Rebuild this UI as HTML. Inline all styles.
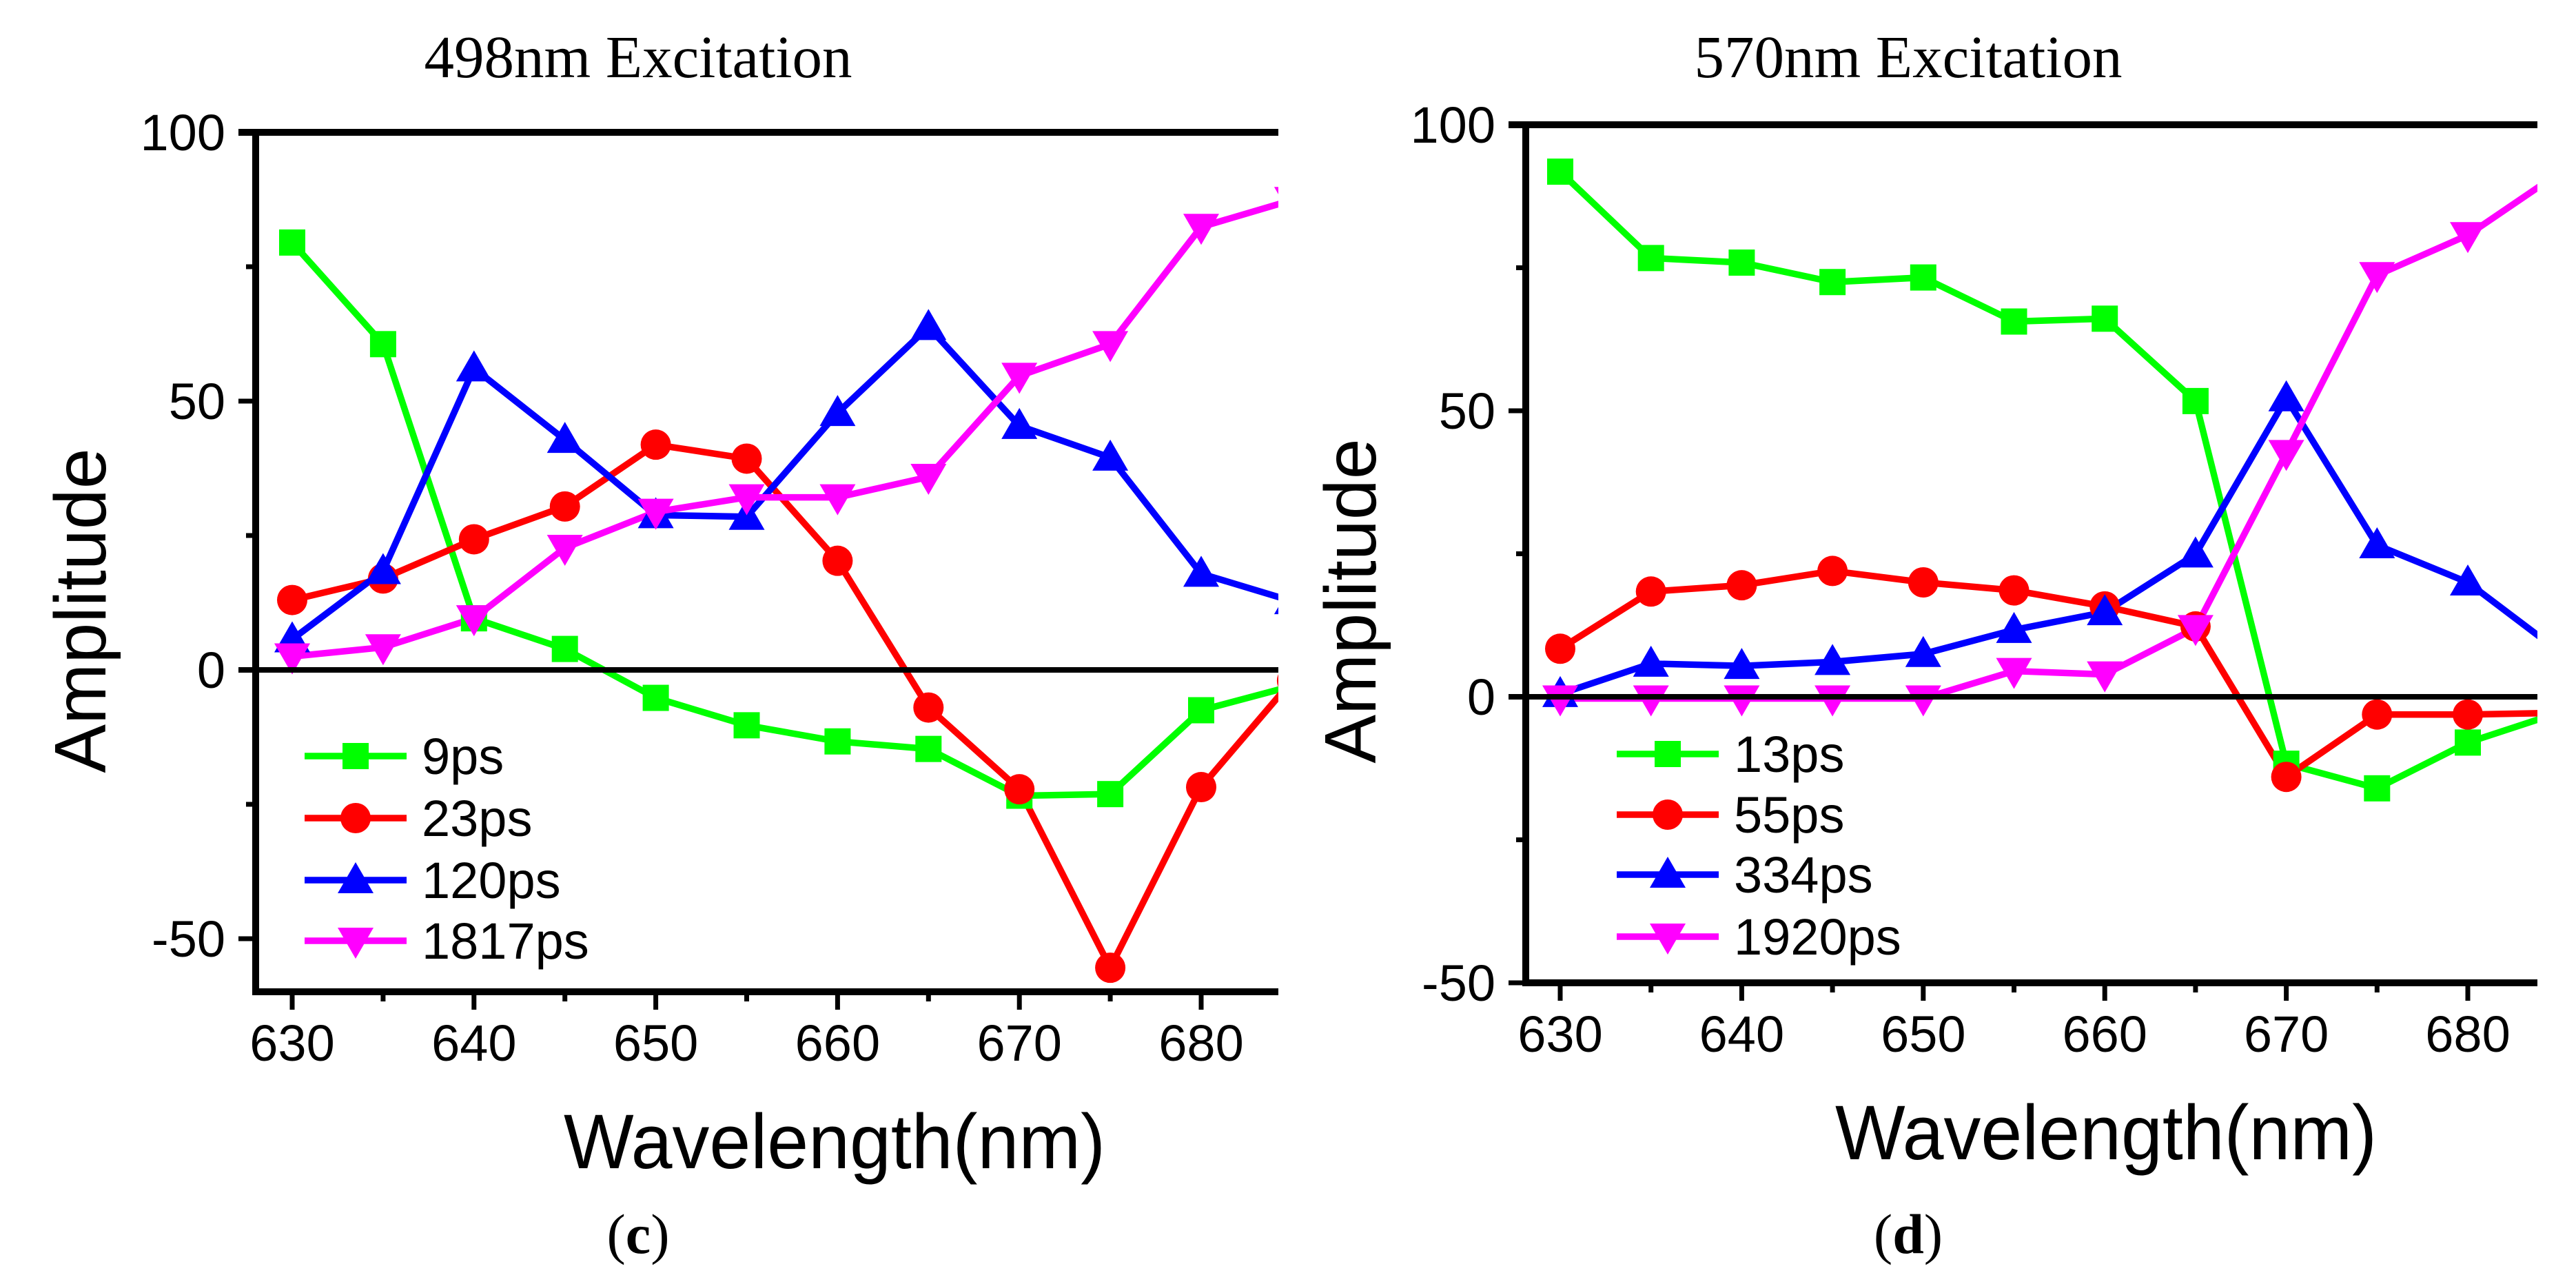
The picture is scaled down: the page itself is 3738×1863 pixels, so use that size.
<!DOCTYPE html>
<html><head><meta charset="utf-8"><style>
html,body{margin:0;padding:0;background:#fff;}
svg{display:block;font-family:"Liberation Sans",Arial,sans-serif;}
</style></head><body>
<svg id="fig" width="3738" height="1863" viewBox="0 0 3738 1863" xmlns="http://www.w3.org/2000/svg"></svg>
<script>
// ---- data ----
const wavelengths = [630,635,640,645,650,655,660,665,670,675,680,685];
const xTicks = [630,640,650,660,670,680];
const xMinorTicks = [635,645,655,665,675];
const yTicks = [100,50,0,-50];
const yMinorTicks = [75,25,-25];

const c_labels = ["9ps","23ps","120ps","1817ps"];
const c_s1 = [79.5,60.6,9.6,3.9,-5.2,-10.3,-13.3,-14.7,-23.4,-23.1,-7.5,-3.0];
const c_s2 = [13,17,24.3,30.4,41.9,39.3,20.3,-7,-22.2,-55.4,-21.8,-2.0];
const c_s3 = [5.7,18.4,56.1,42.8,28.8,28.5,47.8,63.8,45.4,39.5,17.9,12.8];
const c_s4 = [2.5,4.2,9.6,22.7,29.4,32.1,32.1,35.9,54.7,60.6,82.4,87.4];

const d_labels = ["13ps","55ps","334ps","1920ps"];
const d_s1 = [91.8,76.7,75.9,72.5,73.3,65.6,66.1,51.7,-11.7,-16,-8,-2.8];
const d_s2 = [8.4,18.4,19.5,22,20,18.6,15.8,12.3,-14,-3.1,-3.1,-2.8];
const d_s3 = [0.5,5.8,5.4,6.1,7.5,11.7,14.8,24.9,52.2,26.5,20,8];
const d_s4 = [-0.3,-0.3,-0.3,-0.3,-0.3,4.5,3.9,12,42.6,73.7,80.7,91.5];

const colors = ["#00ff00","#ff0000","#0000ff","#ff00ff"];
const markers = ["square","circle","triangle","invtriangle"];

const NS="http://www.w3.org/2000/svg";
const svg=document.getElementById('fig');
function mk(tag,attrs,parent){const e=document.createElementNS(NS,tag);for(const k in attrs)e.setAttribute(k,attrs[k]);(parent||svg).appendChild(e);return e;}

function marker(g,type,cx,cy,color){
  let e;
  if(type==="square") e=mk('rect',{x:cx-19,y:cy-19,width:38,height:38,fill:color},g);
  else if(type==="circle") e=mk('circle',{cx:cx,cy:cy,r:22,fill:color},g);
  else if(type==="triangle") e=mk('polygon',{points:`${cx},${cy-26} ${cx+26},${cy+19} ${cx-26},${cy+19}`,fill:color},g);
  else e=mk('polygon',{points:`${cx},${cy+26} ${cx+26},${cy-19} ${cx-26},${cy-19}`,fill:color},g);
  return e;
}

function panel(p){
  const X=v=>p.x630+(v-630)*p.pxPerNm;
  const Y=v=>p.y0-v*p.pxPerUnit;
  const g=mk('g',{});
  
  
  const clipId='clip-'+p.id;
  const cp=mk('clipPath',{id:clipId},g);
  mk('rect',{x:p.left,y:p.top-40,width:p.right-p.left,height:p.bottom-p.top+80},cp);

  const plot=mk('g',{'clip-path':`url(#${clipId})`},g);
  p.series.forEach((s,i)=>{
    const pts=wavelengths.map((w,j)=>`${X(w)},${Y(s[j])}`).join(' ');
    const pl=mk('polyline',{points:pts,fill:'none',stroke:colors[i],'stroke-width':9.5,'stroke-linejoin':'miter'},plot);
    
    
  });
  p.series.forEach((s,i)=>{
    wavelengths.forEach((w,j)=>{
      const m=marker(plot,markers[i],X(w),Y(s[j]),colors[i]);
      
      
    });
  });

  const ax=mk('g',{},g);
  
  
  mk('line',{x1:p.left-25,x2:p.right,y1:Y(100),y2:Y(100),stroke:'#000','stroke-width':10},ax);
  mk('line',{x1:p.left-25,x2:p.right,y1:Y(0),y2:Y(0),stroke:'#000','stroke-width':8},ax);
  mk('line',{x1:p.left,x2:p.left,y1:Y(100)-4,y2:p.bottom+5,stroke:'#000','stroke-width':10},ax);
  mk('line',{x1:p.left-5,x2:p.right,y1:p.bottom,y2:p.bottom,stroke:'#000','stroke-width':10},ax);
  yTicks.forEach(v=>{
    mk('line',{x1:p.left-25,x2:p.left,y1:Y(v),y2:Y(v),stroke:'#000','stroke-width':7},ax);
    const t=mk('text',{x:p.left-44,y:Y(v)+26,'text-anchor':'end','font-size':74},ax);
    t.textContent=String(v);
    
    
  });
  yMinorTicks.forEach(v=>mk('line',{x1:p.left-14,x2:p.left,y1:Y(v),y2:Y(v),stroke:'#000','stroke-width':7},ax));
  xTicks.forEach(v=>{
    mk('line',{x1:X(v),x2:X(v),y1:p.bottom,y2:p.bottom+26,stroke:'#000','stroke-width':7},ax);
    const t=mk('text',{x:X(v),y:p.bottom+100,'text-anchor':'middle','font-size':74},ax);
    t.textContent=String(v);
    
    
  });
  xMinorTicks.forEach(v=>mk('line',{x1:X(v),x2:X(v),y1:p.bottom,y2:p.bottom+14,stroke:'#000','stroke-width':7},ax));

  const yt=mk('text',{x:0,y:0,'font-size':106,'text-anchor':'middle',transform:`translate(${p.ytX},${p.ytY}) rotate(-90)`},g);
  yt.textContent='Amplitude';
  
  
  const xt=mk('text',{x:p.xtX-393,y:p.xtY,'font-size':112,textLength:786,lengthAdjust:'spacingAndGlyphs'},g);
  xt.textContent='Wavelength(nm)';
  
  
  const tt=mk('text',{x:p.ttX,y:112,'font-size':87,'text-anchor':'middle','font-family':'Liberation Serif, serif'},g);
  tt.textContent=p.title;
  
  
  const cap=mk('text',{x:p.capX,y:1818,'font-size':82,'text-anchor':'middle','font-family':'Liberation Serif, serif'},g);
  cap.innerHTML=`(<tspan font-weight="bold">${p.id}</tspan>)`;
  
  

  const lg=mk('g',{},g);
  
  
  p.labels.forEach((lab,i)=>{
    const ry=p.legY[i];
    const e=mk('g',{},lg);
    
    
    mk('line',{x1:p.legX1,x2:p.legX2,y1:ry,y2:ry,stroke:colors[i],'stroke-width':9.5},e);
    marker(e,markers[i],(p.legX1+p.legX2)/2,ry,colors[i]);
    const t=mk('text',{x:p.legX2+22,y:ry+26,'font-size':74},e);
    t.textContent=lab;
  });
}

panel({id:'c',title:'498nm Excitation',labels:c_labels,series:[c_s1,c_s2,c_s3,c_s4],
  x630:424,pxPerNm:26.38,y0:972,pxPerUnit:7.8,left:371,right:1855,top:193,bottom:1439,
  ytX:153,ytY:886,xtX:1211,xtY:1695,ttX:926,capX:926,
  legX1:442,legX2:590,legY:[1097,1187,1277,1365]});
panel({id:'d',title:'570nm Excitation',labels:d_labels,series:[d_s1,d_s2,d_s3,d_s4],
  x630:2264,pxPerNm:26.34,y0:1011,pxPerUnit:8.3,left:2214,right:3682,top:181,bottom:1426,
  ytX:1996,ytY:872,xtX:3056,xtY:1682,ttX:2769,capX:2769,
  legX1:2346,legX2:2494,legY:[1094,1182,1269,1359]});
</script>
</body></html>
